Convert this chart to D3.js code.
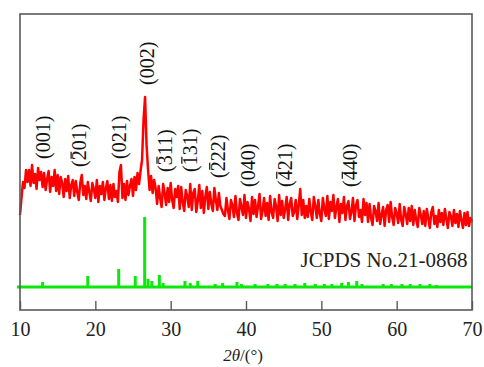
<!DOCTYPE html>
<html>
<head>
<meta charset="utf-8">
<script src="https://cdn.jsdelivr.net/npm/d3@7"></script>
<style>
  body { margin: 0; background: #fff; }
  svg { display: block; }
</style>
</head>
<body>
<div id="chart"></div>
<script>
// XRD scan of the sample (step scan, 10-70 deg, 0.2 deg step), intensity in a.u.
const scanStart = 10, scanStep = 0.2;
const sampleIntensity = [
  95, 112, 128, 122, 140, 128,
  140, 124, 145, 127, 136, 121, 142, 130, 138, 123,
  137, 120, 131, 139, 118, 133, 124, 140, 119, 135,
  116, 133, 127, 113, 131, 119, 134, 112, 125, 130,
  114, 129, 118, 110, 127, 135, 115, 124, 111, 128,
  118, 109, 127, 121, 112, 130, 108, 124, 116, 128, 110, 122, 129, 111, 125,
  109, 126, 113, 119, 108,
  138, 145, 112, 126, 110,
  129, 115, 124, 131, 114,
  133, 120, 137, 126, 139,
  150, 190, 213, 165, 140,
  120, 134, 117, 130, 122,
  106, 124, 112, 103, 126, 117, 105, 122, 108, 127, 110, 102, 121, 113, 124,
  101, 123, 108, 99, 120, 114, 103, 126, 100, 117, 121, 98, 109, 125, 102, 119, 97, 113, 123, 101,
  118, 106, 99, 122, 110, 100, 117, 104,
  100, 96,
  94, 112, 100, 91, 110, 105, 93, 114, 97, 90, 111, 103, 95, 115, 92, 108, 101, 89, 113, 96,
  110, 93, 104, 116, 91, 99, 112, 94, 107, 90, 114, 98, 92, 111, 103, 89, 115, 95, 109, 92,
  101, 113, 90, 106, 112, 94, 98, 110, 91, 105,
  121, 95, 110, 92, 104,
  93, 111, 98, 90, 113, 104, 92, 110, 96, 89, 112, 101, 94, 114, 91, 108, 99, 115, 92, 103,
  111, 88, 106, 97, 113, 90, 104, 109, 91, 98, 112, 89, 105, 110, 93, 100, 88, 111, 95, 107,
  88, 106, 92, 85, 104, 99, 89, 107, 86, 95, 103, 84, 100, 105, 88, 108, 93, 85, 102, 97,
  87, 106, 90, 84, 103, 96, 86, 102, 89, 104,
  85, 100, 90, 83, 102, 95, 86, 99, 84, 101, 92, 82, 98, 103, 86, 94, 83, 100, 88, 97,
  85, 101, 91, 82, 98, 94, 84, 100, 87, 96, 83, 99, 90, 82, 97, 85, 98, 84, 92, 88
];

// JCPDS No.21-0868 reference pattern (stick positions and relative heights)
const refBaseline = 23;
const refAngles  = [13.0, 19.0, 23.1, 25.3, 26.55, 27.0, 27.5, 28.5, 29.0, 31.9, 32.6, 33.6, 35.9, 36.9, 38.8, 39.4,
                    41.2, 42.9, 44.1, 45.2, 46.5, 47.8, 49.2, 50.4, 51.4, 52.7, 53.6, 54.7, 55.4, 58.2, 59.3, 60.7,
                    61.8, 63.1, 64.4, 65.3];
const refHeights = [5, 11, 18, 11, 70, 8, 6, 12, 4, 6, 4, 6, 3, 4, 5, 3,
                    3, 3, 3, 3, 3, 4, 3, 3, 3, 4, 5, 6, 3, 3, 3, 3,
                    3, 3, 3, 2];

// Miller index labels (hklBar = index of the character carrying an overbar, -1 = none)
const hklLabels = ["(001)", "(201)", "(021)", "(002)", "(311)", "(131)", "(222)", "(040)", "(421)", "(440)"];
const hklBar    = [-1, 1, -1, -1, 1, 1, 1, -1, 1, 1];
const hklAngles = [13.1, 17.9, 23.2, 26.9, 29.3, 32.6, 36.3, 40.3, 45.2, 53.9];
const hklLevels = [151, 143, 151, 225, 138, 138, 132, 123, 123, 123];

const xTicks = [10, 20, 30, 40, 50, 60, 70];

const W = 484, H = 367;
const margin = {top: 14, right: 12, bottom: 57, left: 20};
const width = W - margin.left - margin.right,
      height = H - margin.top - margin.bottom;
const serif = "'Liberation Serif', 'Times New Roman', Times, serif";

const svg = d3.select("#chart").append("svg")
  .attr("width", W)
  .attr("height", H);

const g = svg.append("g")
  .attr("transform", `translate(${margin.left},${margin.top})`);

const x = d3.scaleLinear().domain([10, 70]).range([0, width]);
const y = d3.scaleLinear().domain([0, height]).range([height, 0]);

const sample = sampleIntensity.map((v, i) => ({t: scanStart + i * scanStep, v}));

// reference baseline and sticks
g.append("line")
  .attr("x1", x(10) - 3).attr("x2", x(70))
  .attr("y1", y(refBaseline)).attr("y2", y(refBaseline))
  .attr("stroke", "#0be80b")
  .attr("stroke-width", 3);

g.selectAll(".stick")
  .data(refAngles.map((a, i) => ({a, h: refHeights[i]})))
  .enter().append("line")
  .attr("class", "stick")
  .attr("x1", d => x(d.a)).attr("x2", d => x(d.a))
  .attr("y1", y(refBaseline)).attr("y2", d => y(refBaseline + d.h))
  .attr("stroke", "#0be80b")
  .attr("stroke-width", 3);

// sample pattern
const line = d3.line()
  .x(d => x(d.t))
  .y(d => y(d.v));

g.append("path")
  .datum(sample)
  .attr("d", line)
  .attr("fill", "none")
  .attr("stroke", "#ff0000")
  .attr("stroke-width", 2.5)
  .attr("stroke-linejoin", "round");

// hkl labels, rotated, with overbars drawn as lines
const labels = g.selectAll(".hkl")
  .data(hklLabels.map((s, i) => ({s, bar: hklBar[i], a: hklAngles[i], l: hklLevels[i]})))
  .enter().append("g")
  .attr("class", "hkl")
  .attr("transform", d => `translate(${x(d.a)},${y(d.l)}) rotate(-90)`);

labels.append("text")
  .attr("dy", "0.33em")
  .attr("font-family", serif)
  .attr("font-size", 20)
  .attr("fill", "#111")
  .text(d => d.s);

labels.each(function(d) {
  if (d.bar < 0) return;
  const ext = d3.select(this).select("text").node().getExtentOfChar(d.bar);
  d3.select(this).append("line")
    .attr("x1", ext.x + 1.5).attr("x2", ext.x + ext.width - 1.5)
    .attr("y1", ext.y + 3).attr("y2", ext.y + 3)
    .attr("stroke", "#111")
    .attr("stroke-width", 1.2);
});

g.append("text")
  .attr("x", x(69.4))
  .attr("y", y(43))
  .attr("text-anchor", "end")
  .attr("font-family", serif)
  .attr("font-size", 21)
  .attr("fill", "#222")
  .text("JCPDS No.21-0868");

// frame
g.append("rect")
  .attr("width", width)
  .attr("height", height)
  .attr("fill", "none")
  .attr("stroke", "#5a5a5a")
  .attr("stroke-width", 1.6);

// x axis with inward ticks
const xAxis = g.append("g")
  .attr("transform", `translate(0,${height})`)
  .call(d3.axisBottom(x).tickValues(xTicks).tickSizeInner(-9).tickSizeOuter(0).tickPadding(12));
xAxis.select(".domain").remove();
xAxis.selectAll("line").attr("stroke", "#5a5a5a").attr("stroke-width", 1.4);
xAxis.selectAll("text")
  .attr("font-family", serif)
  .attr("font-size", 20)
  .attr("fill", "#222");

// axis title
const title = svg.append("text")
  .attr("x", 243)
  .attr("y", 361)
  .attr("text-anchor", "middle")
  .attr("font-family", serif)
  .attr("font-size", 17)
  .attr("fill", "#222");
title.append("tspan").attr("font-style", "italic").text("2\u03b8");
title.append("tspan").text("/(\u00b0)");
</script>
</body>
</html>
